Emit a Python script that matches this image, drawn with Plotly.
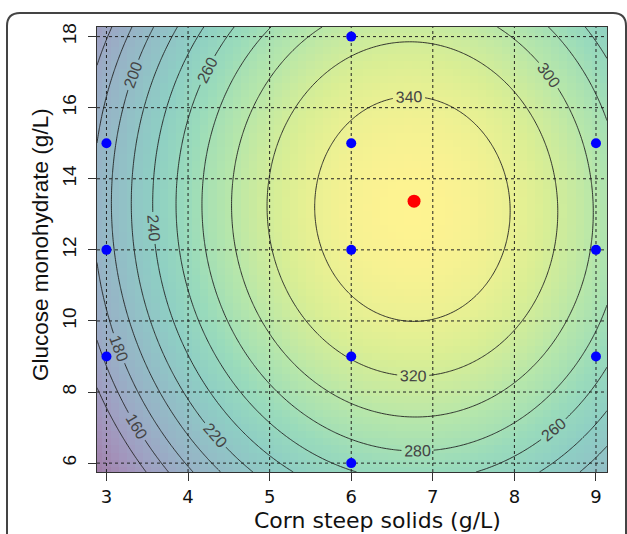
import numpy as np
import plotly.graph_objects as go

# ---- data ----
# fitted response surface (quadratic), coefficients estimated from contours
Z_MAX = 356.5
X_OPT = 6.75
Y_OPT = 13.15
A_X = 11.5      # curvature along corn steep solids
B_Y = 1.65      # curvature along glucose monohydrate
C_XY = 0.15     # small interaction

design_x = [3, 3, 3, 6, 6, 6, 6, 6, 9, 9, 9]
design_y = [9, 12, 15, 6, 9, 12, 15, 18, 9, 12, 15]
opt_x = [6.77]
opt_y = [13.37]

x_ticks = [3, 4, 5, 6, 7, 8, 9]
y_ticks = [6, 8, 10, 12, 14, 16, 18]
contour_start, contour_end, contour_step = 140, 340, 20

x_title = "Corn steep solids (g/L)"
y_title = "Glucose monohydrate (g/L)"

X_RANGE = [2.884, 9.135]
Y_RANGE = [5.75, 18.27]


def surface(x, y):
    dx = x - X_OPT
    dy = y - Y_OPT
    return Z_MAX - A_X * dx ** 2 - B_Y * dy ** 2 - C_XY * dx * dy


# coarse grid for the colour image
hx = np.arange(2.9, 9.11, 0.1)
hy = np.arange(5.8, 18.21, 0.2)
HX, HY = np.meshgrid(hx, hy)
HZ = surface(HX, HY)

# fine grid for contour lines
cx = np.linspace(X_RANGE[0], X_RANGE[1], 200)
cy = np.linspace(Y_RANGE[0], Y_RANGE[1], 200)
CX, CY = np.meshgrid(cx, cy)
CZ = surface(CX, CY)

fig = go.Figure()

fig.add_trace(go.Heatmap(
    x=hx, y=hy, z=HZ, colorscale="Viridis", opacity=0.5,
    showscale=False, zsmooth=False, hoverinfo="skip"))

# dotted grid drawn above the image
gx, gy = [], []
for t in x_ticks:
    gx += [t, t, None]
    gy += [Y_RANGE[0], Y_RANGE[1], None]
for t in y_ticks:
    gx += [X_RANGE[0], X_RANGE[1], None]
    gy += [t, t, None]
fig.add_trace(go.Scatter(x=gx, y=gy, mode="lines",
                         line=dict(color="#222222", width=1, dash="dot"),
                         hoverinfo="skip", showlegend=False))

fig.add_trace(go.Contour(
    x=cx, y=cy, z=CZ,
    contours=dict(coloring="none", start=contour_start, end=contour_end,
                  size=contour_step, showlabels=True,
                  labelfont=dict(size=16, color="#444444",
                                 family="Liberation Sans, Arial")),
    line=dict(color="#222222", width=0.9),
    showscale=False, hoverinfo="skip"))

fig.add_trace(go.Scatter(x=design_x, y=design_y, mode="markers",
                         marker=dict(color="#0000ff", size=10),
                         showlegend=False))
fig.add_trace(go.Scatter(x=opt_x, y=opt_y, mode="markers",
                         marker=dict(color="#ff0000", size=13),
                         showlegend=False))

axis_common = dict(showgrid=False, zeroline=False, showline=True, mirror=True,
                   linecolor="#333333", linewidth=1, ticks="outside",
                   ticklen=8, tickcolor="#333333", automargin=False)

fig.update_xaxes(range=X_RANGE, tickvals=x_ticks, ticklabelstandoff=0,
                 tickfont=dict(size=18, color="#111111",
                               family="DejaVu Sans, Liberation Sans"),
                 **axis_common)
fig.update_yaxes(range=Y_RANGE, tickvals=y_ticks, tickangle=-90,
                 ticklabelstandoff=4,
                 tickfont=dict(size=19, color="#111111",
                               family="Liberation Sans, Arial"),
                 **axis_common)

W, H = 510.0, 445.0  # plot area in pixels (for placing frame & titles)

fig.add_annotation(text=x_title, xref="paper", yref="paper",
                   x=(377 - 97) / W, y=(472 - 520) / H,
                   xanchor="center", yanchor="middle", showarrow=False,
                   borderpad=0,
                   font=dict(size=22, color="#111111",
                             family="DejaVu Sans, Liberation Sans"))
fig.add_annotation(text=y_title, xref="paper", yref="paper",
                   x=(40 - 97) / W, y=(472 - 245) / H, textangle=-90,
                   xanchor="center", yanchor="middle", showarrow=False,
                   font=dict(size=22.5, color="#111111",
                             family="Liberation Sans, Arial"))

# rounded frame around the figure
x0, x1 = (7 - 97) / W, (626 - 97) / W
y1, y0 = (472 - 13) / H, (472 - 600) / H
rx, ry = 13 / W, 13 / H
path = (f"M {x0},{y0} L {x0},{y1-ry} Q {x0},{y1} {x0+rx},{y1} "
        f"L {x1-rx},{y1} Q {x1},{y1} {x1},{y1-ry} L {x1},{y0}")
fig.add_shape(type="path", xref="paper", yref="paper", path=path,
              line=dict(color="#444444", width=2))

fig.update_layout(
    width=627, height=534,
    margin=dict(l=97, r=20, t=27, b=62),
    plot_bgcolor="white", paper_bgcolor="white",
    showlegend=False,
)

fig.write_html("out.html")
